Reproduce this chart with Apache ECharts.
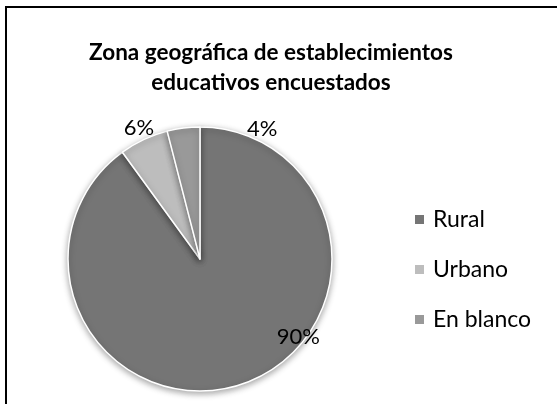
<!DOCTYPE html>
<html>
<head>
<meta charset="utf-8">
<script src="https://cdn.jsdelivr.net/npm/echarts@6/dist/echarts.min.js"></script>
<style>
  html, body { margin: 0; padding: 0; background: #fff; }
  #chart { width: 557px; height: 404px; }
</style>
</head>
<body>
<div id="chart"></div>
<script>
  // datos del gráfico
  var categorias = ['Rural', 'Urbano', 'En blanco']
  var porcentajes = [90, 6, 4]
  var colores = ['#757575', '#bdbdbd', '#999999']

  var myChart = echarts.init(document.getElementById('chart'))

  var datos = []
  for (var i = 0; i < categorias.length; i++) {
    datos.push({ name: categorias[i], value: porcentajes[i], itemStyle: { color: colores[i] } })
  }

  // desplazamiento de etiquetas (como en Excel)
  var despl = [[77, 12], [35, -16], [100, 9]]

  var option = {
    backgroundColor: '#fff',
    animation: false,
    title: {
      text: 'Zona geográfica de establecimientos\neducativos encuestados',
      left: 266,
      top: 33,
      textAlign: 'center',
      textStyle: {
        fontFamily: 'Lato',
        fontWeight: 'bold',
        fontSize: 22.5,
        lineHeight: 30,
        color: '#000'
      }
    },
    legend: {
      orient: 'vertical',
      left: 413,
      top: 208,
      padding: 0,
      itemWidth: 11,
      itemHeight: 11,
      itemGap: 27,
      icon: 'rect',
      data: categorias,
      textStyle: { fontFamily: 'Lato', fontSize: 23, color: '#000', padding: [0, 0, 0, 3] }
    },
    graphic: [{
      type: 'rect',
      shape: { x: 6, y: 7, width: 700, height: 600 },
      style: { fill: 'none', stroke: '#000', lineWidth: 2 },
      silent: true
    }],
    series: [{
      type: 'pie',
      center: [200, 259],
      radius: 132,
      startAngle: 90,
      clockwise: true,
      data: datos,
      itemStyle: {
        borderColor: '#fff',
        borderWidth: 1.5,
        shadowBlur: 6,
        shadowOffsetY: 2,
        shadowColor: 'rgba(0,0,0,0.35)'
      },
      label: {
        show: true,
        position: 'outside',
        formatter: '{d}%',
        fontFamily: 'Lato',
        fontSize: 22,
        color: '#000'
      },
      labelLine: { show: false, length: 8, length2: 0 },
      labelLayout: function (params) {
        var d = despl[params.dataIndex]
        return { dx: d[0], dy: d[1] }
      },
      emphasis: { disabled: true }
    }]
  }
  // la etiqueta de Rural va dentro del sector
  option.series[0].data[0].label = { position: 'inside' }
  myChart.setOption(option)
  window.addEventListener('resize', function () {
    myChart.resize()
  })
</script>
</body>
</html>
